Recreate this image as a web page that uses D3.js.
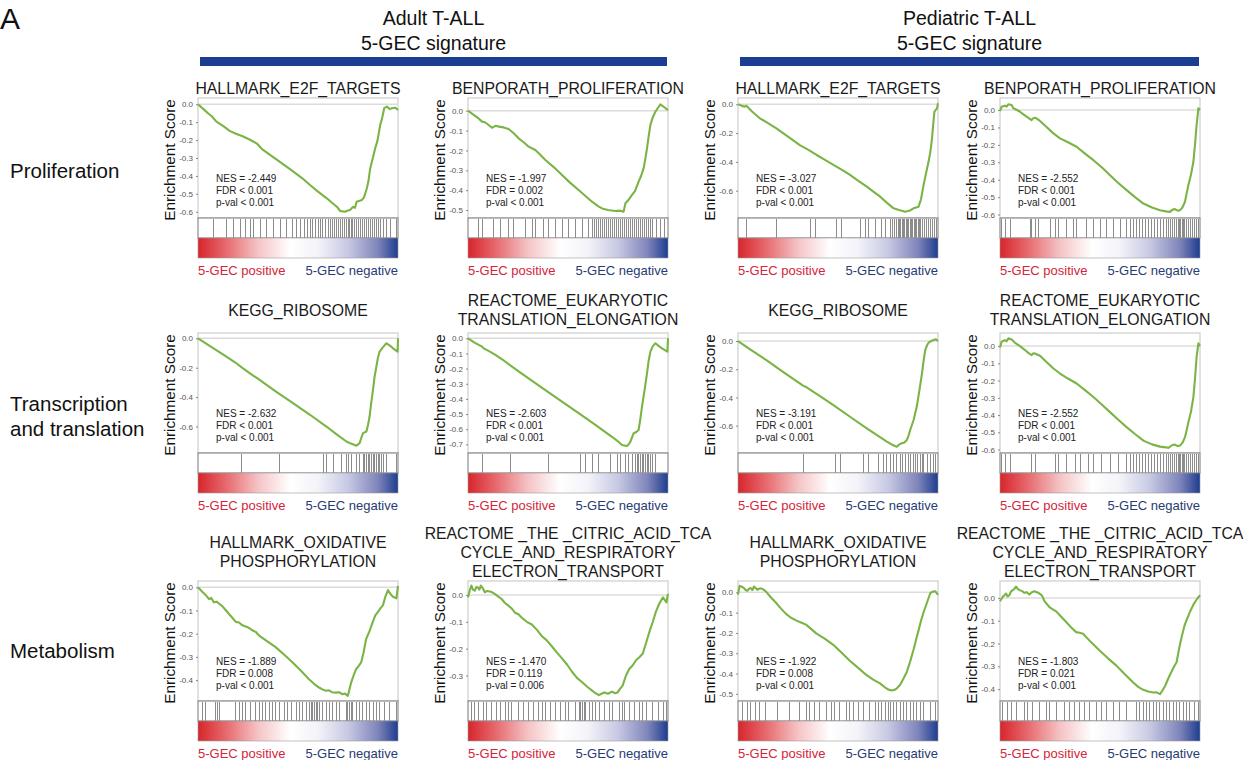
<!DOCTYPE html>
<html>
<head>
<meta charset="utf-8">
<script src="https://cdn.jsdelivr.net/npm/d3@7"></script>
<style>
  body { margin: 0; background: #fff; }
  svg { font-family: "Liberation Sans", Arial, sans-serif; }
</style>
</head>
<body>
<svg id="fig" width="1256" height="760"></svg>
<script>
// ---- data ----
var cohorts = ["Adult T-ALL", "Pediatric T-ALL"];
var rowLabels = [["Proliferation"], ["Transcription", "and translation"], ["Metabolism"]];

var titles = [
  ["HALLMARK_E2F_TARGETS"], ["BENPORATH_PROLIFERATION"], ["HALLMARK_E2F_TARGETS"], ["BENPORATH_PROLIFERATION"],
  ["KEGG_RIBOSOME"], ["REACTOME_EUKARYOTIC", "TRANSLATION_ELONGATION"], ["KEGG_RIBOSOME"], ["REACTOME_EUKARYOTIC", "TRANSLATION_ELONGATION"],
  ["HALLMARK_OXIDATIVE", "PHOSPHORYLATION"], ["REACTOME _THE _CITRIC_ACID_TCA", "CYCLE_AND_RESPIRATORY", "ELECTRON_TRANSPORT"],
  ["HALLMARK_OXIDATIVE", "PHOSPHORYLATION"], ["REACTOME _THE _CITRIC_ACID_TCA", "CYCLE_AND_RESPIRATORY", "ELECTRON_TRANSPORT"]
];
var nes  = ["-2.449", "-1.997", "-3.027", "-2.552", "-2.632", "-2.603", "-3.191", "-2.552", "-1.889", "-1.470", "-1.922", "-1.803"];
var fdr  = ["< 0.001", "= 0.002", "< 0.001", "< 0.001", "< 0.001", "< 0.001", "< 0.001", "< 0.001", "= 0.008", "= 0.119", "= 0.008", "= 0.021"];
var pval = ["< 0.001", "< 0.001", "< 0.001", "< 0.001", "< 0.001", "< 0.001", "< 0.001", "< 0.001", "< 0.001", "= 0.006", "< 0.001", "< 0.001"];

// y-axis extent [bottom, top] and tick values of every panel
var esRange = [[-0.635, 0.035], [-0.54, 0.064], [-0.79, 0.044], [-0.62, 0.069],
               [-0.78, 0.036], [-0.757, 0.035], [-0.794, 0.057], [-0.62, 0.076],
               [-0.49, 0.027], [-0.395, 0.052], [-0.535, 0.056], [-0.452, 0.074]];
var esTicks = [[0, -0.1, -0.2, -0.3, -0.4, -0.5, -0.6], [0, -0.1, -0.2, -0.3, -0.4, -0.5], [0, -0.2, -0.4, -0.6], [0, -0.1, -0.2, -0.3, -0.4, -0.5, -0.6],
               [0, -0.2, -0.4, -0.6], [0, -0.1, -0.2, -0.3, -0.4, -0.5, -0.6, -0.7], [0, -0.2, -0.4, -0.6], [0, -0.1, -0.2, -0.3, -0.4, -0.5, -0.6],
               [0, -0.1, -0.2, -0.3, -0.4], [0, -0.1, -0.2, -0.3], [0, -0.1, -0.2, -0.3, -0.4, -0.5], [0, -0.1, -0.2, -0.3, -0.4]];

// running enrichment score: [rank %, ES]
var esAdultE2F = [[0,0],[3,-0.03],[5,-0.05],[7,-0.068],[9.2,-0.097],[11,-0.11],[13,-0.125],[16,-0.15],[19,-0.165],[22.6,-0.18],[26,-0.198],[29.3,-0.218],[32,-0.25],[36,-0.283],[42,-0.33],[47.7,-0.376],[52,-0.412],[56,-0.451],[60,-0.488],[64.4,-0.525],[67,-0.55],[69.4,-0.572],[71.1,-0.596],[72.4,-0.598],[73.6,-0.6],[74.6,-0.594],[76,-0.59],[77.6,-0.572],[78.5,-0.578],[79.3,-0.544],[80.5,-0.54],[81.9,-0.535],[83,-0.52],[84.4,-0.47],[85.2,-0.43],[86.1,-0.358],[87.2,-0.31],[88.6,-0.246],[89.8,-0.2],[91.1,-0.116],[92,-0.08],[93.1,-0.022],[94.5,-0.013],[95.8,-0.026],[97,-0.022],[98.7,-0.019],[100,-0.032]];
var esAdultBen = [[0,0],[3,-0.022],[5.3,-0.039],[7,-0.055],[8.5,-0.058],[10.3,-0.072],[12,-0.086],[13.7,-0.076],[15.5,-0.08],[17.8,-0.084],[20.3,-0.092],[23,-0.115],[25.3,-0.139],[28,-0.16],[30.3,-0.181],[33.7,-0.198],[36,-0.22],[38.7,-0.248],[43,-0.285],[47,-0.324],[51,-0.362],[55.3,-0.399],[59,-0.432],[62,-0.458],[65,-0.48],[67,-0.492],[70,-0.5],[73.7,-0.505],[76,-0.503],[77.8,-0.508],[78.7,-0.466],[80,-0.452],[82,-0.424],[83.5,-0.405],[85.3,-0.357],[86.5,-0.33],[87.8,-0.29],[88.7,-0.24],[89.5,-0.19],[90.3,-0.13],[91.2,-0.072],[92.5,-0.03],[93.7,-0.005],[95,0.015],[96.2,0.032],[97.8,0.02],[100,0.003]];
var esPedE2F = [[0,0],[1.7,-0.009],[3.3,-0.016],[4.2,-0.01],[7,-0.05],[10.9,-0.097],[15,-0.13],[19.2,-0.167],[25,-0.225],[30.9,-0.283],[35,-0.315],[39.3,-0.352],[43.5,-0.386],[47.7,-0.421],[52,-0.455],[56,-0.491],[60,-0.53],[64.4,-0.572],[68,-0.61],[71.1,-0.642],[74.5,-0.685],[77.8,-0.723],[80.5,-0.735],[83.6,-0.746],[86,-0.738],[87.8,-0.723],[90.3,-0.711],[91.5,-0.66],[92.8,-0.56],[94,-0.48],[95.3,-0.398],[96.2,-0.33],[97,-0.236],[97.6,-0.14],[98.2,-0.051],[99.5,-0.028],[100,0.007]];
var esPedBen = [[0,-0.006],[0.8,0.019],[2.5,0.025],[3.3,0.02],[4.2,0.033],[5.8,0.029],[6.7,0.01],[8.5,0.0],[10,-0.01],[11.7,-0.025],[13.3,-0.038],[15.8,-0.058],[16.5,-0.048],[17.5,-0.044],[18.8,-0.052],[20,-0.063],[23,-0.095],[26.7,-0.134],[30,-0.163],[34,-0.185],[38.3,-0.211],[42.5,-0.25],[46.7,-0.288],[51,-0.33],[55,-0.374],[59,-0.418],[63.3,-0.46],[67.5,-0.5],[71.7,-0.537],[76,-0.56],[80,-0.575],[83,-0.582],[85,-0.585],[86.3,-0.572],[87.5,-0.569],[88.8,-0.578],[90,-0.575],[91.2,-0.56],[92.5,-0.527],[93.3,-0.48],[94.2,-0.431],[95.5,-0.37],[96.7,-0.297],[97.5,-0.2],[98.3,-0.086],[99.2,0.01],[100,0]];
var esAdultRibo = [[0,0],[7,-0.062],[14.2,-0.125],[18.5,-0.163],[22.5,-0.204],[26.5,-0.243],[30.8,-0.283],[39,-0.362],[47.5,-0.441],[56,-0.52],[64.2,-0.6],[69,-0.65],[74.2,-0.702],[76.5,-0.716],[79.2,-0.731],[80.8,-0.713],[81.6,-0.68],[82.5,-0.645],[84.2,-0.634],[85,-0.59],[85.8,-0.532],[86.6,-0.44],[87.5,-0.351],[88.3,-0.26],[89.2,-0.192],[90,-0.13],[90.8,-0.091],[92.5,-0.06],[94.2,-0.034],[96,-0.05],[97.5,-0.068],[99.8,-0.091],[100,0]];
var esAdultTrans = [[0,0],[3.5,-0.03],[7,-0.055],[7.8,-0.066],[10.5,-0.085],[13.7,-0.11],[18,-0.148],[22,-0.187],[26,-0.225],[30.3,-0.264],[38.5,-0.34],[47,-0.418],[55.5,-0.495],[63.7,-0.572],[68,-0.612],[72,-0.65],[74.5,-0.675],[77,-0.704],[79.5,-0.711],[80.3,-0.7],[81.2,-0.682],[82.8,-0.627],[84,-0.62],[85.3,-0.605],[86.2,-0.53],[87,-0.451],[88.3,-0.34],[89.5,-0.231],[90.3,-0.15],[91.2,-0.088],[92.5,-0.05],[93.7,-0.033],[95.3,-0.05],[97,-0.066],[99.7,-0.088],[100,0]];
var esPedRibo = [[0,0],[7,-0.068],[14.2,-0.135],[22.5,-0.218],[30.9,-0.3],[32.5,-0.316],[34.3,-0.328],[41,-0.39],[47.7,-0.454],[56,-0.537],[64.4,-0.619],[69.5,-0.668],[74.4,-0.713],[77,-0.735],[79.4,-0.749],[80.5,-0.735],[81.9,-0.725],[83.2,-0.72],[84.4,-0.702],[85.3,-0.67],[86.1,-0.631],[87.8,-0.56],[89.4,-0.465],[90.7,-0.35],[92,-0.229],[92.8,-0.14],[93.6,-0.064],[94.5,-0.03],[95.3,-0.012],[96.5,0.0],[97.8,0.007],[99,0.012],[100,0]];
var esPedTrans = [[0,-0.008],[0.8,0.025],[2.5,0.035],[3.3,0.028],[4.2,0.045],[5.8,0.039],[7.5,0.019],[10,0.0],[12.5,-0.023],[14,-0.038],[15.8,-0.052],[16.6,-0.042],[17.5,-0.043],[18.8,-0.05],[20,-0.056],[23.5,-0.095],[26.7,-0.13],[30,-0.159],[34,-0.188],[38.3,-0.217],[42.5,-0.255],[46.7,-0.295],[51,-0.34],[55,-0.383],[59,-0.426],[63.3,-0.47],[67.5,-0.51],[71.7,-0.548],[76,-0.57],[80,-0.583],[82,-0.586],[84.2,-0.59],[86,-0.575],[87.5,-0.571],[88.8,-0.58],[90,-0.577],[91.3,-0.56],[92.5,-0.528],[93.3,-0.49],[94.2,-0.441],[95.5,-0.38],[96.7,-0.295],[97.5,-0.19],[98.3,-0.062],[99.2,0.016],[100,0]];
var esAdultOx = [[0,0],[2,-0.018],[3.8,-0.033],[5.5,-0.051],[6.6,-0.046],[8,-0.065],[9.3,-0.062],[10.5,-0.07],[12,-0.08],[13.9,-0.099],[16.5,-0.125],[18.9,-0.149],[20.5,-0.152],[22.2,-0.164],[24.8,-0.172],[27.3,-0.186],[28.8,-0.192],[30.4,-0.207],[34.5,-0.232],[38.8,-0.258],[43,-0.29],[47.2,-0.323],[51.5,-0.36],[55.5,-0.396],[58,-0.416],[60.5,-0.432],[62.2,-0.44],[63.9,-0.446],[65.5,-0.444],[67,-0.452],[68.9,-0.454],[70.5,-0.452],[72.2,-0.461],[73.5,-0.458],[74.9,-0.468],[75.7,-0.44],[76.6,-0.41],[77.8,-0.38],[79.1,-0.352],[80.3,-0.34],[81.6,-0.323],[82.8,-0.28],[84.1,-0.222],[85.7,-0.19],[87.4,-0.149],[88.7,-0.12],[90,-0.106],[91.3,-0.09],[92.5,-0.077],[93.7,-0.04],[95,-0.012],[96.3,-0.03],[97.5,-0.041],[99.2,-0.048],[100,0.006]];
var esAdultTca = [[0,-0.009],[1,0.02],[1.7,0.035],[2.5,0.02],[3.4,0.016],[4.2,0.03],[5,0.027],[5.7,0.02],[6.4,0.035],[7.4,0.025],[8.4,0.01],[9.6,0.015],[10.9,0.013],[12.1,0.01],[13.4,0.004],[15,-0.005],[16.8,-0.015],[18.5,-0.03],[20.2,-0.04],[21.8,-0.05],[23.5,-0.066],[25.2,-0.072],[26.9,-0.085],[29.4,-0.1],[31.9,-0.11],[34.5,-0.13],[37,-0.154],[39.5,-0.17],[42,-0.192],[44.5,-0.215],[47.1,-0.237],[49.6,-0.26],[52.1,-0.287],[54.6,-0.31],[57.1,-0.325],[59.6,-0.342],[62.2,-0.357],[63.8,-0.366],[65.5,-0.373],[66.8,-0.368],[68.1,-0.363],[70,-0.368],[72,-0.36],[73.5,-0.366],[74.8,-0.363],[76,-0.35],[77.3,-0.338],[79,-0.3],[80.7,-0.275],[82.4,-0.262],[84,-0.243],[85.7,-0.232],[87.4,-0.218],[89,-0.18],[90.8,-0.135],[92.4,-0.1],[94.1,-0.059],[95.8,-0.03],[97.5,-0.009],[99.2,-0.028],[100,0.004]];
var esPedOx = [[0,-0.011],[0.8,0.032],[1.9,0.028],[3,0.021],[3.8,0.012],[4.7,0.008],[5.5,0.018],[6.4,0.021],[7.2,0.012],[8,0.029],[9.7,0.013],[11,0.02],[12.2,0.017],[13.9,0.005],[16.5,-0.025],[19,-0.051],[21.5,-0.08],[24,-0.106],[26.5,-0.125],[29,-0.138],[31.5,-0.148],[34,-0.159],[36.5,-0.18],[39.1,-0.202],[43.3,-0.228],[47.5,-0.257],[51.7,-0.296],[55.9,-0.337],[60.1,-0.372],[64.3,-0.408],[67.6,-0.43],[71,-0.448],[73.1,-0.465],[75.2,-0.479],[76.8,-0.483],[78.5,-0.479],[79.7,-0.47],[81,-0.456],[82.7,-0.425],[84.4,-0.392],[86.1,-0.34],[87.8,-0.281],[89,-0.235],[90.3,-0.186],[91.5,-0.14],[92.8,-0.098],[94.5,-0.05],[96.2,-0.003],[97.4,0.004],[98.7,0.005],[100,-0.012]];
var esPedTca = [[0,-0.015],[1.3,0.004],[2.2,0.012],[3,0.019],[3.8,0.006],[4.7,0.012],[5.5,0.028],[6.4,0.034],[7.2,0.04],[8,0.049],[8.8,0.04],[9.7,0.034],[11,0.03],[12.2,0.022],[13.4,0.025],[14.7,0.015],[15.9,0.025],[17.1,0.029],[18.4,0.025],[19.7,0.019],[21,0.01],[22.3,-0.015],[24.7,-0.04],[26.4,-0.05],[28.1,-0.059],[30.6,-0.083],[33.1,-0.106],[35.6,-0.13],[38.1,-0.15],[39.8,-0.153],[41.5,-0.157],[45.6,-0.195],[49.8,-0.231],[54,-0.265],[58.2,-0.297],[62.4,-0.335],[66.6,-0.371],[69.1,-0.39],[71.6,-0.403],[74.1,-0.41],[76.6,-0.415],[78.3,-0.414],[80,-0.422],[81.3,-0.405],[82.6,-0.385],[84.3,-0.35],[86,-0.319],[87.1,-0.3],[88.3,-0.282],[89.6,-0.22],[91,-0.165],[92.3,-0.12],[93.6,-0.091],[95.3,-0.055],[97,-0.025],[98.5,-0.005],[100,0.012]];

// rank % of the gene-set members (hit strip)
var hitsAdultE2F = [7.5,14,17.5,21,23.5,26,27.5,31,34,37.5,41,44,47,49,51,53,54.5,56,57,58.5,60,61,62,63.5,65,66,67,68,69,70,71,72,73,74,75,75.8,76.5,77.3,78,79,80,81,82,83,84,85,86,87,88,89,90,91,92.5,94,96,99];
var hitsAdultBen = [5.3,7,12.8,16,20.3,22.8,28.7,32,33.7,37.8,40.3,43.7,47,50.3,53.7,57,60.3,62,63,64,65,66,67,68,69,70,71,72,73,74,75,76,77,78,79,80,81,82,83,84,85,86,87,88,89,90,91,92,94,96,98];
var hitsPedE2F = [4.2,19.2,36,38.5,49.3,51.8,61,63.5,65.2,68.6,71.9,73.6,76,77,78,79,80,80.5,81,82,82.5,83,84,84.5,85,86,86.5,87,88,88.5,89,90,90.5,91,92,93,94,95,96,97,98,99];
var hitsPedBen = [0.8,2.5,5,15,15.8,17.5,19.2,25,27.5,29.2,33.3,36.7,38.3,43.3,46.7,50,53.3,56.7,60,63.3,65,66.5,68,69.5,71,72.5,74,75.5,77,78.5,80,81.5,83,84,85,86,87,88,89,89.5,90,91,91.5,92,93,94,95,96,97,98,99];
var hitsAdultRibo = [21.7,40.5,62.5,64.2,67.5,71.7,74.2,75,76.7,79.2,80.8,82.5,83.3,84.2,85,85.8,86.7,87.5,88.3,89.2,90,90.8,91.7,92.5,94.2,99.2];
var hitsAdultTrans = [7.3,21.2,40,56.2,58.7,62,65.3,71.2,74.5,76.2,78.7,80.3,82,83.7,84.5,85.3,86.2,87,87.8,88.7,89.5,90.3,91.2,92,93.7];
var hitsPedRibo = [32.9,48.5,51,62.7,65.2,70.2,72.7,74.4,76.1,77.8,79.4,81.1,82,83.6,85.3,86.1,87.8,88.6,89.5,91.1,92,92.8,94.5,96.2,97.8,98.7];
var hitsPedTrans = [0.8,2.5,5,15.8,17.5,27.5,29.2,33.3,37.5,40,44.2,46.7,50.8,55,59.2,63.3,65,66.5,68,69.5,71,72.5,74,75.5,77,78.5,80,81.5,83,84,85,86,87,88,89,89.5,90,91,91.5,92,93,94,95,96,97,98,99];
var hitsAdultOx = [2.2,3.8,8.9,9.7,10.5,18.9,20.6,22.2,23.9,26.4,28.9,30.6,32.3,33.9,35.6,37.3,38.9,40.6,43.1,44.8,46.5,49,50.7,52.3,54,55.7,56.5,57.4,58.2,59,59.9,60.7,62.4,64,65.7,67.4,69,70.7,74,74.9,75.8,76.6,77.4,79.1,80.8,82.4,84.1,85.8,87.5,89.1,90.8,93.3,95.8,99.2];
var hitsAdultTca = [1.7,3.4,5,7.6,9.2,11.8,14.3,16,18.5,20.2,21.8,25.2,27.7,30.3,32.8,35.3,37,38.7,41.2,43.7,46.2,48.7,50.4,53.8,55.5,56.3,57.1,58,58.8,60.5,62.2,63.9,65.5,68.1,70.6,72.3,75.6,77.3,78.2,80.7,83.2,85.7,87.4,89.1,92.4,95,97.5,99.2];
var hitsPedOx = [2.2,4.7,6.4,8.9,10.6,13.9,19.8,25.7,30.7,34.1,35.7,38.3,40.8,44.1,46.6,48.3,50.8,54.2,55.8,57.5,60.1,62.6,65.9,68.5,70.1,71.8,73.5,75.2,76,77.7,79.4,81,82.7,84.4,86.1,87.7,89.4,91.1,92.8,96.1,98.7];
var hitsPedTca = [1.3,3.8,5.5,8,12.2,13.9,16.4,19.7,23.1,24.7,28.1,32.3,34.8,37.3,39.8,42.3,44.8,48.2,50.7,53.2,56.5,59.9,63.2,68.2,69.9,71.6,73.2,74.9,76.6,78.3,79.9,81.6,83.3,84.9,86.6,88.3,89.9,91.6,93.3,94.9,97.4,99.1];

var curves = [esAdultE2F, esAdultBen, esPedE2F, esPedBen, esAdultRibo, esAdultTrans, esPedRibo, esPedTrans, esAdultOx, esAdultTca, esPedOx, esPedTca];
var hits = [hitsAdultE2F, hitsAdultBen, hitsPedE2F, hitsPedBen, hitsAdultRibo, hitsAdultTrans, hitsPedRibo, hitsPedTrans, hitsAdultOx, hitsAdultTca, hitsPedOx, hitsPedTca];

// ---- layout ----
var colX = [198, 468, 738, 1000], boxW = 200;
var rowY = [98, 333, 581], esH = 120, stripH = 20, barH = 20;
var titleY = [88, 310, 552];
var rowLabelY = [171, 416, 651];

var svg = d3.select("#fig");

var grad = svg.append("defs").append("linearGradient").attr("id", "rank");
[[0, "#d7252c"], [0.15, "#e76f73"], [0.3, "#f5c3c5"], [0.46, "#ffffff"], [0.6, "#f3f3f9"], [0.75, "#c7c9e3"], [0.9, "#7f84ba"], [1, "#1d3d8f"]]
  .forEach(function(s) { grad.append("stop").attr("offset", s[0]).attr("stop-color", s[1]); });

svg.append("text").attr("x", 0).attr("y", 29).attr("font-size", 30).attr("fill", "#111").text("A");

cohorts.forEach(function(c, i) {
  var x0 = colX[i * 2] + 2, x1 = colX[i * 2 + 1] + boxW - 1;
  var cx = (x0 + x1) / 2;
  svg.append("text").attr("x", cx).attr("y", 25).attr("text-anchor", "middle").attr("font-size", 19.5).attr("fill", "#111").text(c);
  svg.append("text").attr("x", cx).attr("y", 50).attr("text-anchor", "middle").attr("font-size", 19.5).attr("fill", "#111").text("5-GEC signature");
  svg.append("rect").attr("x", x0).attr("y", 57).attr("width", x1 - x0).attr("height", 9).attr("fill", "#1b3e93");
});

rowLabels.forEach(function(lines, r) {
  lines.forEach(function(t, k) {
    svg.append("text").attr("x", 10).attr("y", rowLabelY[r] + 7 + (k - (lines.length - 1) / 2) * 25)
      .attr("font-size", 20.5).attr("fill", "#111").text(t);
  });
});

titles.forEach(function(t, i) {
  var r = Math.floor(i / 4), c = i % 4;
  var bx = colX[c], by = rowY[r];
  var g = svg.append("g").attr("transform", "translate(" + bx + "," + by + ")");

  var x = d3.scaleLinear().domain([0, 100]).range([0, boxW]);
  var y = d3.scaleLinear().domain(esRange[i]).range([esH, 0]);

  // title
  t.forEach(function(line, k) {
    svg.append("text").attr("x", bx + boxW / 2).attr("y", titleY[r] + 5.5 + (k - (t.length - 1) / 2) * 19)
      .attr("text-anchor", "middle").attr("font-size", 15.8).attr("fill", "#1a1a1a").text(line);
  });

  // ES frame and zero line
  g.append("rect").attr("width", boxW).attr("height", esH).attr("fill", "#fff").attr("stroke", "#c4c4c4").attr("stroke-width", 1);
  g.append("line").attr("x1", 0).attr("x2", boxW).attr("y1", y(0)).attr("y2", y(0)).attr("stroke", "#dcdcdc").attr("stroke-width", 1.5);

  // axis
  var ax = g.append("g").call(d3.axisLeft(y).tickValues(esTicks[i]).tickSize(2).tickPadding(3)
    .tickFormat(function(d) { return d.toFixed(1); }));
  ax.select(".domain").remove();
  ax.selectAll(".tick line").attr("stroke", "#888");
  ax.selectAll("text").attr("font-size", 8).attr("fill", "#555").attr("font-family", "Liberation Sans, Arial, sans-serif");

  g.append("text").attr("transform", "translate(-23," + (esH / 2 + 2) + ") rotate(-90)")
    .attr("text-anchor", "middle").attr("font-size", 15.3).attr("fill", "#111").text("Enrichment Score");

  // curve
  g.append("path").datum(curves[i])
    .attr("d", d3.line().x(function(d) { return x(d[0]); }).y(function(d) { return y(d[1]); }))
    .attr("fill", "none").attr("stroke", "#7ab445").attr("stroke-width", 2.1).attr("stroke-linejoin", "round");

  // stats
  ["NES = " + nes[i], "FDR " + fdr[i], "p-val " + pval[i]].forEach(function(s, k) {
    g.append("text").attr("x", 18).attr("y", 84 + k * 12).attr("font-size", 10).attr("fill", "#222").text(s);
  });

  // hit strip
  var sg = g.append("g").attr("transform", "translate(0," + esH + ")");
  sg.append("rect").attr("width", boxW).attr("height", stripH).attr("fill", "#fff").attr("stroke", "#777").attr("stroke-width", 1);
  sg.selectAll("line.hit").data(hits[i]).enter().append("line").attr("class", "hit")
    .attr("x1", function(d) { return x(d); }).attr("x2", function(d) { return x(d); })
    .attr("y1", 0.5).attr("y2", stripH - 0.5)
    .attr("stroke", "#8c8c8c").attr("stroke-width", 1)
    .attr("shape-rendering", "crispEdges");

  // ranked-list colour bar
  g.append("rect").attr("y", esH + stripH).attr("width", boxW).attr("height", barH)
    .attr("fill", "url(#rank)").attr("stroke", "#999").attr("stroke-width", 0.6);

  g.append("text").attr("x", 0).attr("y", esH + stripH + barH + 17).attr("font-size", 13).attr("fill", "#d4253a").text("5-GEC positive");
  g.append("text").attr("x", boxW).attr("y", esH + stripH + barH + 17).attr("text-anchor", "end").attr("font-size", 13).attr("fill", "#283a72").text("5-GEC negative");
});
</script>
</body>
</html>
